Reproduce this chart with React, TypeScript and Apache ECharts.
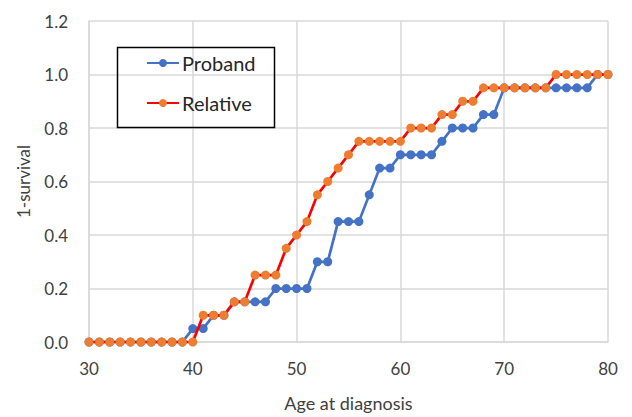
import React, { useEffect, useRef } from "react";
import * as echarts from "echarts";

const ages = [30, 31, 32, 33, 34, 35, 36, 37, 38, 39, 40, 41, 42, 43, 44, 45, 46, 47, 48, 49, 50, 51, 52, 53, 54, 55, 56, 57, 58, 59, 60, 61, 62, 63, 64, 65, 66, 67, 68, 69, 70, 71, 72, 73, 74, 75, 76, 77, 78, 79, 80];

const proband = [0, 0, 0, 0, 0, 0, 0, 0, 0, 0, 0.05, 0.05, 0.1, 0.1, 0.15, 0.15, 0.15, 0.15, 0.2, 0.2, 0.2, 0.2, 0.3, 0.3, 0.45, 0.45, 0.45, 0.55, 0.65, 0.65, 0.7, 0.7, 0.7, 0.7, 0.75, 0.8, 0.8, 0.8, 0.85, 0.85, 0.95, 0.95, 0.95, 0.95, 0.95, 0.95, 0.95, 0.95, 0.95, 1.0, 1.0];

const relative = [0, 0, 0, 0, 0, 0, 0, 0, 0, 0, 0, 0.1, 0.1, 0.1, 0.15, 0.15, 0.25, 0.25, 0.25, 0.35, 0.4, 0.45, 0.55, 0.6, 0.65, 0.7, 0.75, 0.75, 0.75, 0.75, 0.75, 0.8, 0.8, 0.8, 0.85, 0.85, 0.9, 0.9, 0.95, 0.95, 0.95, 0.95, 0.95, 0.95, 0.95, 1.0, 1.0, 1.0, 1.0, 1.0, 1.0];

const seriesNames = ["Proband", "Relative"];
const xTitle = "Age at diagnosis";
const yTitle = "1-survival";

const FONT = "Lato, 'Noto Sans', sans-serif";

export default function App() {
  const ref = useRef<HTMLDivElement>(null);
  useEffect(() => {
    if (!ref.current) return;
    const chart = echarts.init(ref.current, undefined, { renderer: "svg" });
    chart.setOption({
      animation: false,
      backgroundColor: "#ffffff",
      textStyle: { fontFamily: FONT },
      grid: { left: 89, right: 24, top: 21, bottom: 74 },
      xAxis: {
        type: "value",
        min: 30,
        max: 80,
        interval: 10,
        name: xTitle,
        nameLocation: "middle",
        nameGap: 52,
        nameTextStyle: { fontSize: 18, color: "#404040", fontFamily: FONT },
        axisLine: { show: true, lineStyle: { color: "#d9d9d9", width: 1.5 } },
        axisTick: { show: false },
        axisLabel: { fontSize: 17, color: "#404040", margin: 18, fontFamily: FONT },
        splitLine: { show: true, lineStyle: { color: "#d9d9d9", width: 1.5 } },
      },
      yAxis: {
        type: "value",
        min: 0,
        max: 1.2,
        interval: 0.2,
        name: yTitle,
        nameLocation: "middle",
        nameGap: 57,
        nameRotate: 90,
        nameTextStyle: { fontSize: 17, color: "#404040", fontFamily: FONT },
        axisLine: { show: true, lineStyle: { color: "#d9d9d9", width: 1.5 } },
        axisTick: { show: false },
        axisLabel: {
          fontSize: 17,
          color: "#404040",
          margin: 21,
          fontFamily: FONT,
          formatter: (v: number) => v.toFixed(1),
        },
        splitLine: { show: true, lineStyle: { color: "#d9d9d9", width: 1.5 } },
      },
      legend: {
        left: 146,
        top: 53,
        orient: "vertical",
        itemWidth: 32,
        itemHeight: 10,
        itemGap: 20,
        padding: 0,
        textStyle: { fontSize: 20, color: "#262626", fontFamily: FONT, padding: [0, 0, 0, -2] },
        data: seriesNames,
      },
      graphic: [
        {
          type: "rect",
          left: 115,
          top: 45,
          shape: { width: 157, height: 80 },
          style: { fill: "none", stroke: "#000000", lineWidth: 1.5 },
          z: 100,
        },
      ],
      series: [
        {
          name: seriesNames[0],
          type: "line",
          data: ages.map((a, i) => [a, proband[i]]),
          symbol: "circle",
          symbolSize: 9,
          lineStyle: { color: "#4472C4", width: 2.75 },
          itemStyle: { color: "#4472C4" },
          z: 2,
        },
        {
          name: seriesNames[1],
          type: "line",
          data: ages.map((a, i) => [a, relative[i]]),
          symbol: "circle",
          symbolSize: 9,
          lineStyle: { color: "#FF0000", width: 2.75 },
          itemStyle: { color: "#ED7D31" },
          z: 3,
        },
      ],
    });
    return () => chart.dispose();
  }, []);
  return <div ref={ref} style={{ width: 632, height: 417, position: "absolute", left: 0, top: 0 }} />;
}
